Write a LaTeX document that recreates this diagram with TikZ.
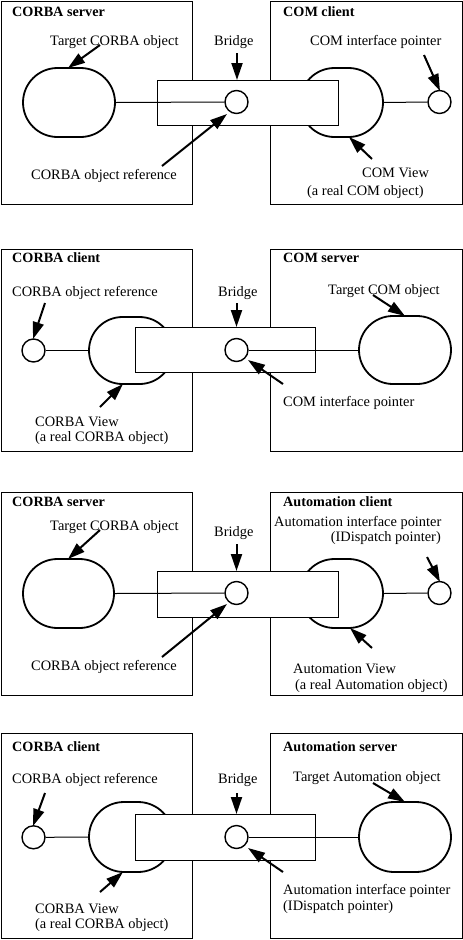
\documentclass[tikz,border=0pt]{standalone}
\usepackage{fontspec}
\setmainfont{Liberation Serif}
\usetikzlibrary{shapes.misc,arrows.meta}
\begin{document}
\begin{tikzpicture}[x=1pt,y=-1pt,
  panelbox/.style={draw,line width=1pt},
  stadium/.style={draw,shape=rounded rectangle,line width=1.8pt,inner sep=0pt,fill=white},
  bridgebox/.style={draw,line width=1pt,fill=white},
  port/.style={draw,circle,line width=1.4pt,minimum size=23pt,inner sep=0pt,fill=white},
  wire/.style={line width=1pt},
  lbl/.style={anchor=base west,inner sep=0pt,font=\fontsize{14.4}{16}\selectfont},
  ttl/.style={anchor=base west,inner sep=0pt,font=\fontsize{14.2}{16}\selectfont\bfseries},
  pointer/.style={line width=2pt,-{Triangle[length=17pt,width=11pt]}}]
\useasboundingbox (0,0) rectangle (463,940);

% ================= Panel 1 =================
\node[panelbox,minimum width=191pt,minimum height=203pt,anchor=north west,inner sep=0pt] (p1L) at (0.5,0.5) {};
\node[panelbox,minimum width=192pt,minimum height=203pt,anchor=north west,inner sep=0pt] (p1R) at (270,0.5) {};
\node[stadium,minimum width=92pt,minimum height=69pt] (p1so) at (69,102.5) {};
\node[stadium,minimum width=83pt,minimum height=69pt] (p1sv) at (341.5,102.5) {};
\node[bridgebox,minimum width=181pt,minimum height=45pt,inner sep=0pt] (p1br) at (247.5,102.5) {};
\node[port] (p1c) at (236.5,102) {};
\node[port] (p1cr) at (439.5,102) {};
\draw[wire] (p1so.east) -- (p1c.west);
\draw[wire] (p1sv.east) -- (p1cr.west);
\node[ttl] (p1t1) at (12,16.7) {CORBA server};
\node[ttl] (p1t2) at (283,16.7) {COM client};
\node[lbl] (p1a) at (50,45) {Target CORBA object};
\node[lbl] (p1b) at (214,45) {Bridge};
\node[lbl] (p1c2) at (310,45) {COM interface pointer};
\node[lbl] (p1d) at (31,179.5) {CORBA object reference};
\node[lbl] (p1e) at (362,177) {COM View};
\node[lbl] (p1f) at (307,195.5) {(a real COM object)};
\coordinate (p1a0) at (100,45); \coordinate (p1a1) at (68,68);
\coordinate (p1b0) at (237,53); \coordinate (p1b1) at (237,80);
\coordinate (p1c0) at (424,55); \coordinate (p1c1) at (440,91);
\coordinate (p1d0) at (162,166); \coordinate (p1d1) at (227,114);
\coordinate (p1e0) at (372,159); \coordinate (p1e1) at (349,137);
\draw[pointer] (p1a0) -- (p1a1);
\draw[pointer] (p1b0) -- (p1b1);
\draw[pointer] (p1c0) -- (p1c1);
\draw[pointer] (p1d0) -- (p1d1);
\draw[pointer] (p1e0) -- (p1e1);

% ================= Panel 2 =================
\node[panelbox,minimum width=191pt,minimum height=202pt,anchor=north west,inner sep=0pt] (p2L) at (0.5,249.3) {};
\node[panelbox,minimum width=192pt,minimum height=202pt,anchor=north west,inner sep=0pt] (p2R) at (270,249.3) {};
\node[stadium,minimum width=84pt,minimum height=67pt] (p2sv) at (131,350.5) {};
\node[stadium,minimum width=92pt,minimum height=68pt] (p2so) at (405,350) {};
\node[bridgebox,minimum width=180pt,minimum height=45pt,inner sep=0pt] (p2br) at (225,349.5) {};
\node[port] (p2cl) at (33.5,350.5) {};
\node[port] (p2c) at (236.5,350) {};
\draw[wire] (p2cl.east) -- (p2sv.west);
\draw[wire] (p2c.east) -- (p2so.west);
\node[ttl] (p2t1) at (12,262.7) {CORBA client};
\node[ttl] (p2t2) at (283,262.7) {COM server};
\node[lbl] (p2a) at (12,296.7) {CORBA object reference};
\node[lbl] (p2b) at (218,296.7) {Bridge};
\node[lbl] (p2c2) at (328,294) {Target COM object};
\node[lbl] (p2d) at (283,406) {COM interface pointer};
\node[lbl] (p2e) at (35,426.7) {CORBA View};
\node[lbl] (p2f) at (35,441.5) {(a real CORBA object)};
\coordinate (p2a0) at (45,303); \coordinate (p2a1) at (33,339);
\coordinate (p2b0) at (236.5,303); \coordinate (p2b1) at (236.5,327);
\coordinate (p2c0) at (373,295); \coordinate (p2c1) at (405,316);
\coordinate (p2d0) at (283,384); \coordinate (p2d1) at (248,360);
\coordinate (p2e0) at (100,407); \coordinate (p2e1) at (123,384);
\draw[pointer] (p2a0) -- (p2a1);
\draw[pointer] (p2b0) -- (p2b1);
\draw[pointer] (p2c0) -- (p2c1);
\draw[pointer] (p2d0) -- (p2d1);
\draw[pointer] (p2e0) -- (p2e1);

% ================= Panel 3 =================
\node[panelbox,minimum width=191pt,minimum height=203pt,anchor=north west,inner sep=0pt] (p3L) at (0.5,492) {};
\node[panelbox,minimum width=192pt,minimum height=203pt,anchor=north west,inner sep=0pt] (p3R) at (270,492) {};
\node[stadium,minimum width=91pt,minimum height=69pt] (p3so) at (68.5,593.5) {};
\node[stadium,minimum width=83pt,minimum height=69pt] (p3sv) at (341.5,593.5) {};
\node[bridgebox,minimum width=181pt,minimum height=46pt,inner sep=0pt] (p3br) at (247.5,594) {};
\node[port] (p3c) at (236.5,593) {};
\node[port] (p3cr) at (439.5,593) {};
\draw[wire] (p3so.east) -- (p3c.west);
\draw[wire] (p3sv.east) -- (p3cr.west);
\node[ttl] (p3t1) at (12,506.7) {CORBA server};
\node[ttl] (p3t2) at (283,506.7) {Automation client};
\node[lbl] (p3a) at (50,530) {Target CORBA object};
\node[lbl] (p3b) at (214,536) {Bridge};
\node[lbl] (p3c2) at (274,526.7) {Automation interface pointer};
\node[lbl,anchor=base east] (p3c3) at (441,541.5) {(IDispatch pointer)};
\node[lbl] (p3d) at (31,670) {CORBA object reference};
\node[lbl] (p3e) at (293,673.3) {Automation View};
\node[lbl] (p3f) at (295,689.5) {(a real Automation object)};
\coordinate (p3a0) at (100,530); \coordinate (p3a1) at (68,559);
\coordinate (p3b0) at (236.5,544); \coordinate (p3b1) at (236.5,571);
\coordinate (p3c0) at (427,557); \coordinate (p3c1) at (440,582);
\coordinate (p3d0) at (162,657); \coordinate (p3d1) at (227,604);
\coordinate (p3e0) at (372,648); \coordinate (p3e1) at (350,628);
\draw[pointer] (p3a0) -- (p3a1);
\draw[pointer] (p3b0) -- (p3b1);
\draw[pointer] (p3c0) -- (p3c1);
\draw[pointer] (p3d0) -- (p3d1);
\draw[pointer] (p3e0) -- (p3e1);

% ================= Panel 4 =================
\node[panelbox,minimum width=191pt,minimum height=205pt,anchor=north west,inner sep=0pt] (p4L) at (0.5,733.3) {};
\node[panelbox,minimum width=192pt,minimum height=205pt,anchor=north west,inner sep=0pt] (p4R) at (270,733.3) {};
\node[stadium,minimum width=84pt,minimum height=70pt] (p4sv) at (131,837) {};
\node[stadium,minimum width=92pt,minimum height=70pt] (p4so) at (405,837) {};
\node[bridgebox,minimum width=180pt,minimum height=46pt,inner sep=0pt] (p4br) at (225,837) {};
\node[port] (p4cl) at (33.5,837.3) {};
\node[port] (p4c) at (236.5,837) {};
\draw[wire] (p4cl.east) -- (p4sv.west);
\draw[wire] (p4c.east) -- (p4so.west);
\node[ttl] (p4t1) at (12,751) {CORBA client};
\node[ttl] (p4t2) at (283,751) {Automation server};
\node[lbl] (p4a) at (12,783.3) {CORBA object reference};
\node[lbl] (p4b) at (218,783.3) {Bridge};
\node[lbl] (p4c2) at (293,781) {Target Automation object};
\node[lbl] (p4d) at (283,894) {Automation interface pointer};
\node[lbl] (p4d2) at (283,910) {(IDispatch pointer)};
\node[lbl] (p4e) at (35,913) {CORBA View};
\node[lbl] (p4f) at (35,928) {(a real CORBA object)};
\coordinate (p4a0) at (45,793); \coordinate (p4a1) at (33,826);
\coordinate (p4b0) at (236.5,793); \coordinate (p4b1) at (236.5,814);
\coordinate (p4c0) at (373,783); \coordinate (p4c1) at (405,802);
\coordinate (p4d0) at (283,872); \coordinate (p4d1) at (248,848);
\coordinate (p4e0) at (100,892); \coordinate (p4e1) at (123,872);
\draw[pointer] (p4a0) -- (p4a1);
\draw[pointer] (p4b0) -- (p4b1);
\draw[pointer] (p4c0) -- (p4c1);
\draw[pointer] (p4d0) -- (p4d1);
\draw[pointer] (p4e0) -- (p4e1);
\end{tikzpicture}
\end{document}
